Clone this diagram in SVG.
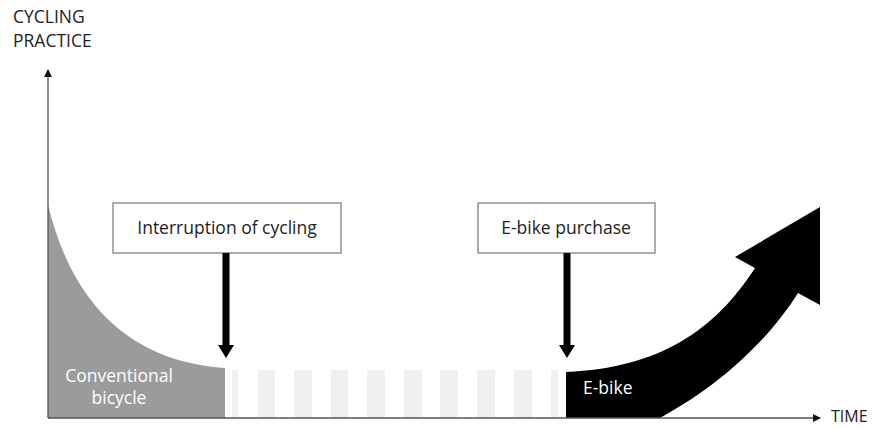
<svg xmlns="http://www.w3.org/2000/svg" width="872" height="428" viewBox="0 0 872 428">
<style>
.lbl{font-family:"Open Sans","Liberation Sans",Arial,sans-serif;font-size:17.5px;fill:#222}
.wl{font-family:"Open Sans","Liberation Sans",Arial,sans-serif;font-size:17.5px;fill:#fff}
.ax{font-family:"Open Sans","Liberation Sans",Arial,sans-serif;font-size:17.5px;fill:#222}
.box{fill:#fff;stroke:#777;stroke-width:1.2}
.stripe{fill:#efefef}
.axis{stroke:#555;stroke-width:1.3;fill:none}
</style>
<defs>
<marker id="axhead" markerWidth="8" markerHeight="8" refX="7" refY="4" orient="auto" markerUnits="userSpaceOnUse">
<path d="M0,0 L8,4 L0,8 Z" fill="#111"/>
</marker>
</defs>
<rect width="872" height="428" fill="#fff"/>
<g id="stripes">
<rect class="stripe" x="232" y="370" width="6" height="48"/>
<rect class="stripe" x="258" y="370" width="17" height="48"/>
<rect class="stripe" x="294" y="370" width="18" height="48"/>
<rect class="stripe" x="331" y="370" width="17" height="48"/>
<rect class="stripe" x="367" y="370" width="18" height="48"/>
<rect class="stripe" x="404" y="370" width="18" height="48"/>
<rect class="stripe" x="440" y="370" width="18" height="48"/>
<rect class="stripe" x="477" y="370" width="18" height="48"/>
<rect class="stripe" x="514" y="370" width="18" height="48"/>
<rect class="stripe" x="551" y="370" width="7" height="48"/>
</g>
<g id="conventional">
<path d="M48,205 C 75,315 140,362 225,368 L225,418 L48,418 Z" fill="#9b9b9b"/>
<text class="wl" x="119" y="382" text-anchor="middle">Conventional</text>
<text class="wl" x="119" y="404" text-anchor="middle">bicycle</text>
</g>
<g id="ebike">
<path d="M566,372 C 660,368 715,330 755,268 L735,257 L820,207 L820,305 L798,293 C 775,330 730,380 660,418 L566,418 Z" fill="#000"/>
<text class="wl" x="583" y="394">E-bike</text>
</g>
<g id="axes">
<line class="axis" x1="48" y1="418" x2="48" y2="70" marker-end="url(#axhead)"/>
<line class="axis" x1="48" y1="418" x2="820" y2="418" marker-end="url(#axhead)"/>
<text class="ax" x="13" y="23">CYCLING</text>
<text class="ax" x="13" y="47">PRACTICE</text>
<text class="ax" x="831" y="422" style="font-size:16px">TIME</text>
</g>
<g id="interruption">
<rect class="box" x="113" y="203" width="228" height="50"/>
<text class="lbl" x="227" y="234" text-anchor="middle">Interruption of cycling</text>
</g>
<g id="purchase">
<rect class="box" x="478" y="203" width="177" height="50"/>
<text class="lbl" x="566" y="234" text-anchor="middle">E-bike purchase</text>
</g>
<g id="connectors">
<path d="M222.5,253 H229.5 V345 H234 L226,358 L218,345 H222.5 Z" fill="#000"/>
<path d="M563.5,253 H570.5 V345 H575 L567,358 L559,345 H563.5 Z" fill="#000"/>
</g>
</svg>
